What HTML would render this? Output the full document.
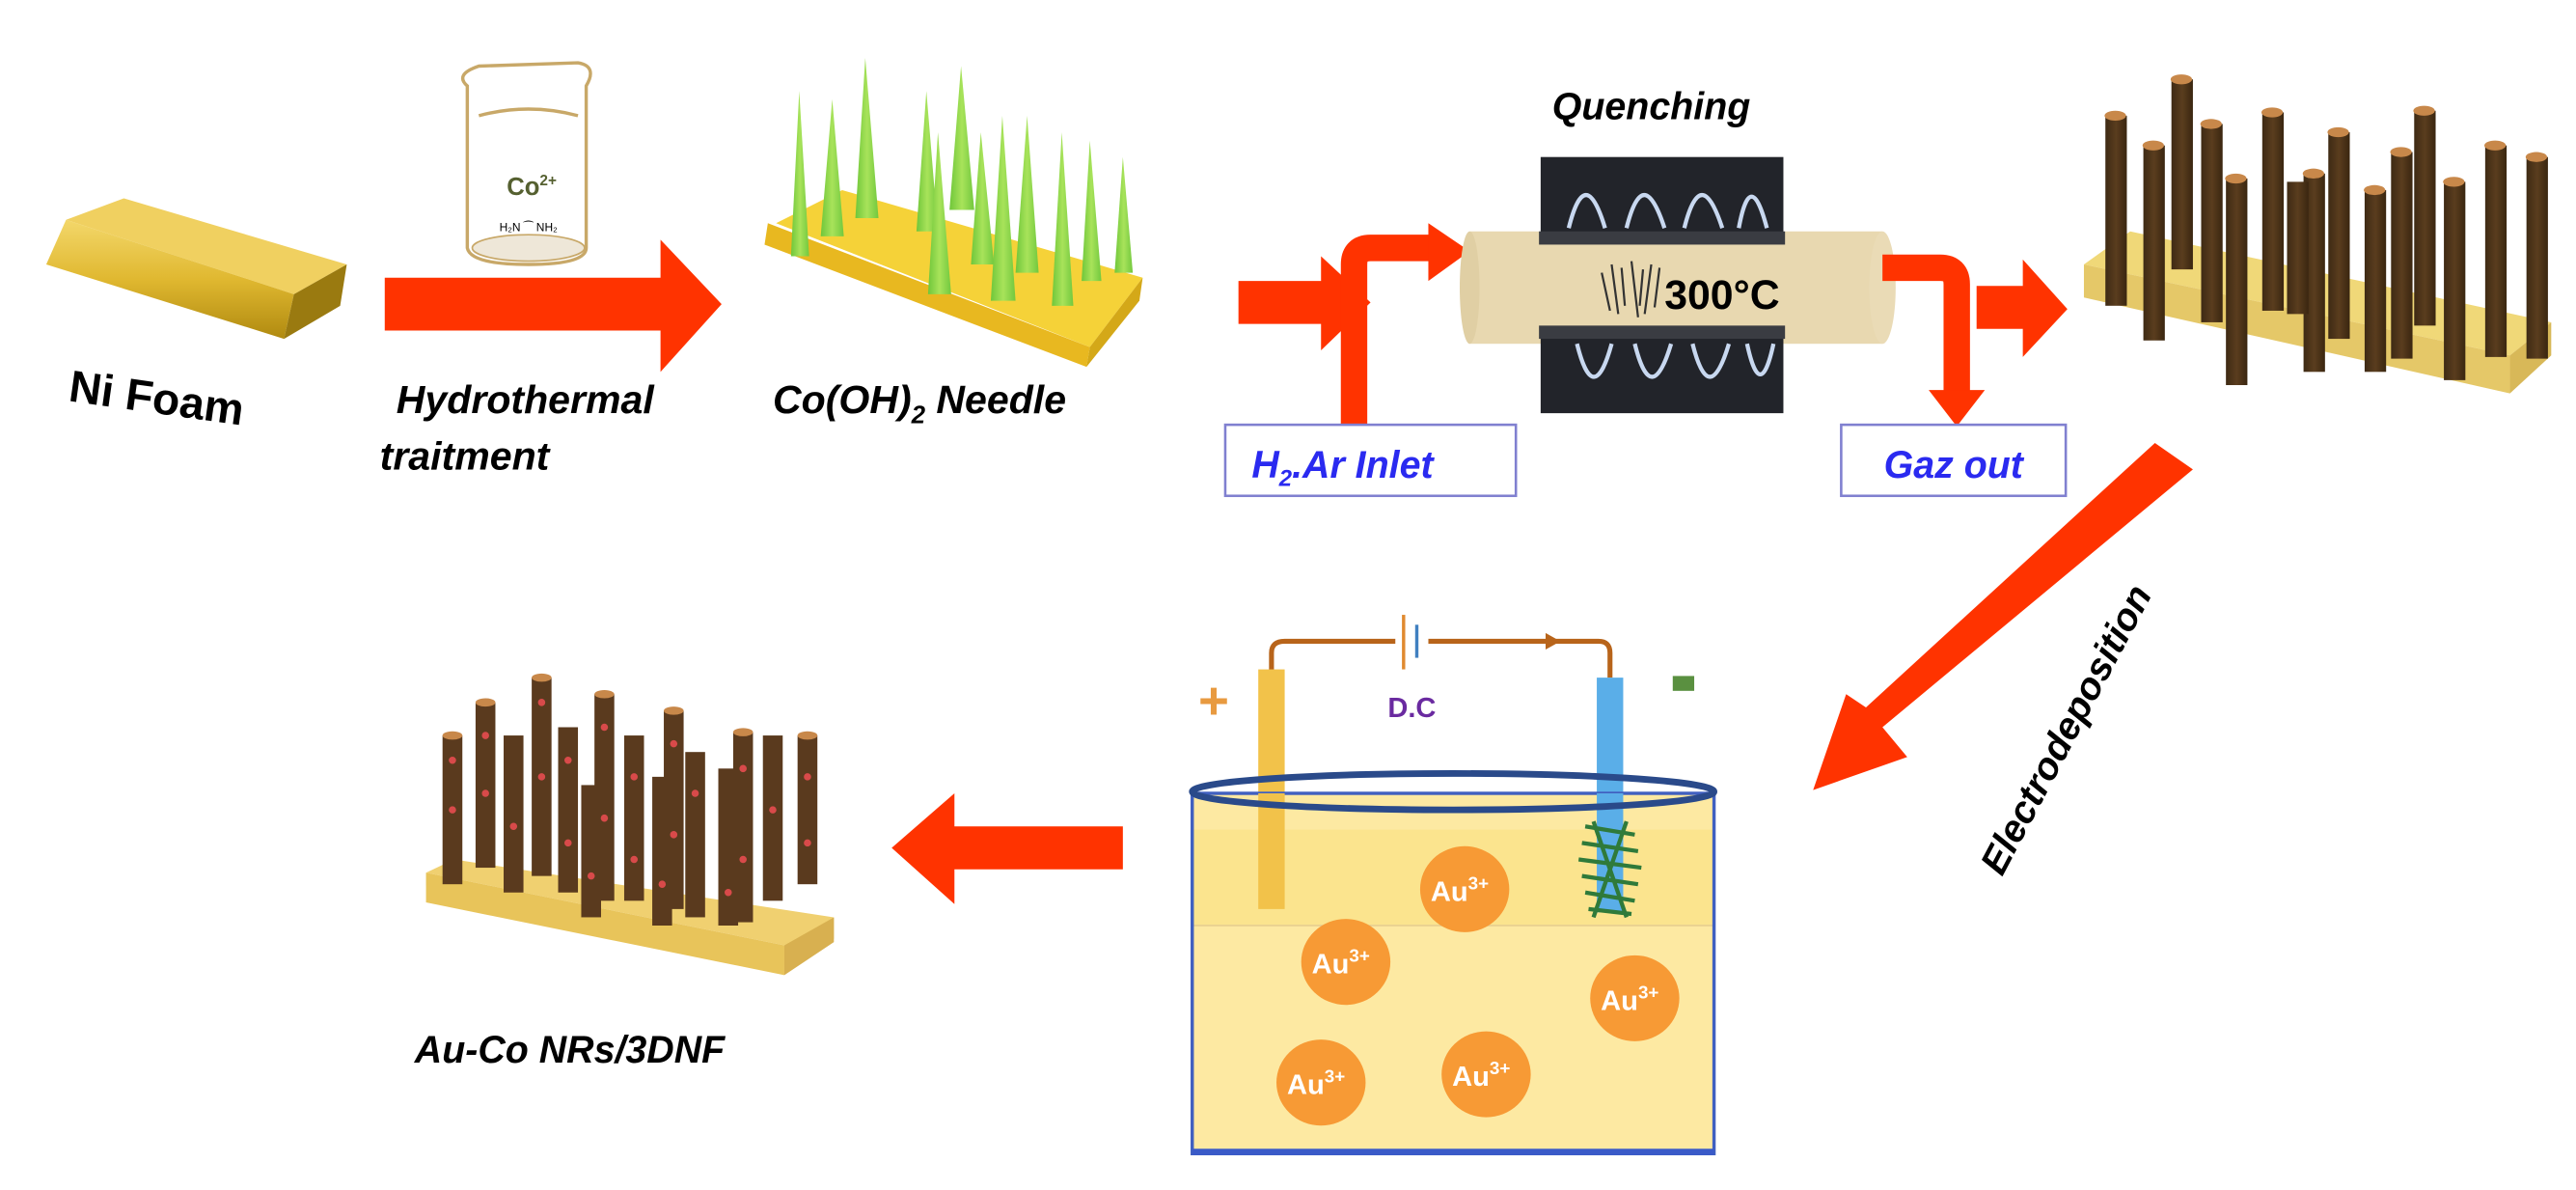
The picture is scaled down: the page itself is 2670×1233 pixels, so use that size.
<!DOCTYPE html>
<html><head><meta charset="utf-8"><style>html,body{margin:0;padding:0;background:#fff}svg{display:block}</style></head>
<body>
<svg width="2670" height="1233" viewBox="0 0 1560 720" preserveAspectRatio="none" xmlns="http://www.w3.org/2000/svg" font-family="Liberation Sans, sans-serif">
<defs>
<linearGradient id="gold" x1="0" y1="0" x2="0" y2="1"><stop offset="0" stop-color="#f3d76a"/><stop offset="0.5" stop-color="#e0b830"/><stop offset="1" stop-color="#b08a10"/></linearGradient>
<linearGradient id="rod" x1="0" y1="0" x2="1" y2="0"><stop offset="0" stop-color="#3e2a14"/><stop offset="0.5" stop-color="#5a3d1e"/><stop offset="1" stop-color="#3a2610"/></linearGradient>
<linearGradient id="ndl" x1="0" y1="0" x2="1" y2="0"><stop offset="0" stop-color="#6fc63a"/><stop offset="0.5" stop-color="#a8e35a"/><stop offset="1" stop-color="#72c83e"/></linearGradient>
</defs>
<!-- Ni foam -->
<polygon points="40,133 75,120 210,160 178,178" fill="#f0d060"/>
<polygon points="40,133 178,178 172,205 28,160" fill="url(#gold)"/>
<polygon points="178,178 210,160 206,185 172,205" fill="#9a7a10"/>
<text x="95" y="250" font-size="27" font-weight="bold" text-anchor="middle" transform="rotate(8 95 240)">Ni Foam</text>
<!-- arrow 1 -->
<polygon points="233,168 400,168 400,145 437,184 400,225 400,200 233,200" fill="#ff3300"/>
<!-- beaker -->
<path d="M283,52 Q275,45 290,40 L350,38 Q362,40 355,52 L355,150 Q355,160 320,160 Q285,160 283,150 Z" fill="#fff" stroke="#c8a868" stroke-width="2"/>
<ellipse cx="320" cy="150" rx="34" ry="8" fill="#eee7d8" stroke="#c8a868"/>
<path d="M290,70 Q320,62 350,70" fill="none" stroke="#c8a868" stroke-width="2"/>
<text x="322" y="118" font-size="15" font-weight="bold" fill="#556030" text-anchor="middle">Co<tspan font-size="9" dy="-6">2+</tspan></text>
<text x="320" y="140" font-size="7" text-anchor="middle">H₂N  ⁀  NH₂</text>
<text x="240" y="250" font-size="24" font-weight="bold" font-style="italic">Hydrothermal</text>
<text x="230" y="284" font-size="24" font-weight="bold" font-style="italic">traitment</text>
<!-- needles -->
<polygon points="470,135 510,115 692,168 660,210" fill="#f5d238"/>
<polygon points="465,135 660,210 658,222 463,148" fill="#e8b820"/>
<polygon points="660,210 692,168 690,182 658,222" fill="#d4a818"/>
<g fill="url(#ndl)">
<polygon points="479,155 484,55 490,155"/><polygon points="497,143 504,60 511,143"/><polygon points="518,132 524,35 532,132"/>
<polygon points="555,140 561,55 568,140"/><polygon points="575,127 582,40 590,127"/><polygon points="562,178 568,80 576,178"/>
<polygon points="588,160 594,80 602,160"/><polygon points="600,182 607,70 615,182"/><polygon points="615,165 622,70 629,165"/>
<polygon points="637,185 643,80 650,185"/><polygon points="655,170 660,85 667,170"/><polygon points="675,165 680,95 686,165"/>
</g>
<text x="468" y="250" font-size="24" font-weight="bold" font-style="italic">Co(OH)<tspan font-size="15" dy="6">2</tspan><tspan dy="-6"> Needle</tspan></text>
<!-- small arrow -->
<polygon points="750,170 800,170 800,155 830,183 800,212 800,196 750,196" fill="#ff3300"/>
<!-- inlet arrow -->
<path d="M820,258 L820,160 Q820,150 830,150 L872,150" fill="none" stroke="#ff3300" stroke-width="16"/>
<polygon points="865,135 890,152 865,170" fill="#ff3300"/>
<rect x="742" y="257" width="176" height="43" fill="#fff" stroke="#8080d0" stroke-width="1.5"/>
<text x="758" y="289" font-size="23" font-weight="bold" font-style="italic" fill="#2a2af0">H<tspan font-size="14" dy="5">2</tspan><tspan dy="-5">.Ar Inlet</tspan></text>
<!-- tube -->
<rect x="890" y="140" width="250" height="68" fill="#e8d8b0"/>
<ellipse cx="890" cy="174" rx="6" ry="34" fill="#e0cfa4"/>
<ellipse cx="1140" cy="174" rx="8" ry="34" fill="#eadbb6"/>
<rect x="933" y="95" width="147" height="50" fill="#22242a"/><rect x="932" y="140" width="149" height="8" fill="#3a3c42"/>
<rect x="933" y="200" width="147" height="50" fill="#22242a"/><rect x="932" y="197" width="149" height="8" fill="#3a3c42"/>
<g fill="none" stroke="#c8d8f0" stroke-width="2.5">
<path d="M950,138 Q960,98 972,138"/><path d="M985,138 Q995,98 1008,138"/><path d="M1020,138 Q1030,98 1043,138"/><path d="M1053,138 Q1060,100 1070,138"/>
<path d="M955,208 Q965,248 976,208"/><path d="M990,208 Q1000,248 1012,208"/><path d="M1025,208 Q1035,248 1047,208"/><path d="M1058,208 Q1066,245 1074,208"/>
</g>
<text x="1000" y="72" font-size="23" font-weight="bold" font-style="italic" text-anchor="middle">Quenching</text>
<g stroke="#333" stroke-width="1.3"><path d="M970,165 L975,188 M976,160 L980,190 M982,162 L984,185 M988,158 L992,192 M995,163 L993,185 M1000,160 L996,190 M1005,162 L1002,186"/></g>
<text x="1008" y="187" font-size="25" font-weight="bold">300°C</text>
<!-- gaz out arrow -->
<path d="M1140,162 L1175,162 Q1185,162 1185,172 L1185,240" fill="none" stroke="#ff3300" stroke-width="16"/>
<polygon points="1168,236 1202,236 1185,258" fill="#ff3300"/>
<rect x="1115" y="257" width="136" height="43" fill="#fff" stroke="#8080d0" stroke-width="1.5"/>
<text x="1183" y="289" font-size="23" font-weight="bold" font-style="italic" fill="#2a2af0" text-anchor="middle">Gaz out</text>
<!-- arrow -->
<polygon points="1197,173 1225,173 1225,157 1252,187 1225,216 1225,199 1197,199" fill="#ff3300"/>
<!-- rods -->
<polygon points="1262,160 1290,140 1545,195 1520,215" fill="#f0d878"/>
<polygon points="1262,160 1520,215 1520,238 1262,180" fill="#e5c868"/>
<polygon points="1520,215 1545,195 1545,215 1520,238" fill="#d8b858"/>
<g fill="url(#rod)">
<rect x="1275" y="70" width="13" height="115"/><rect x="1298" y="88" width="13" height="118"/><rect x="1315" y="48" width="13" height="115"/>
<rect x="1333" y="75" width="13" height="120"/><rect x="1348" y="108" width="13" height="125"/><rect x="1370" y="68" width="13" height="120"/>
<rect x="1395" y="105" width="13" height="120"/><rect x="1410" y="80" width="13" height="125"/><rect x="1432" y="115" width="13" height="110"/>
<rect x="1448" y="92" width="13" height="125"/><rect x="1462" y="67" width="13" height="130"/><rect x="1480" y="110" width="13" height="120"/>
<rect x="1505" y="88" width="13" height="128"/><rect x="1530" y="95" width="13" height="122"/><rect x="1385" y="110" width="13" height="80"/>
</g>
<g fill="#c8884a"><ellipse cx="1281" cy="70" rx="6.5" ry="3"/><ellipse cx="1304" cy="88" rx="6.5" ry="3"/><ellipse cx="1321" cy="48" rx="6.5" ry="3"/><ellipse cx="1339" cy="75" rx="6.5" ry="3"/><ellipse cx="1354" cy="108" rx="6.5" ry="3"/><ellipse cx="1376" cy="68" rx="6.5" ry="3"/><ellipse cx="1401" cy="105" rx="6.5" ry="3"/><ellipse cx="1416" cy="80" rx="6.5" ry="3"/><ellipse cx="1438" cy="115" rx="6.5" ry="3"/><ellipse cx="1454" cy="92" rx="6.5" ry="3"/><ellipse cx="1468" cy="67" rx="6.5" ry="3"/><ellipse cx="1486" cy="110" rx="6.5" ry="3"/><ellipse cx="1511" cy="88" rx="6.5" ry="3"/><ellipse cx="1536" cy="95" rx="6.5" ry="3"/></g>
<!-- diagonal arrow -->
<polygon points="1305,268 1328,284 1140,440 1155,458 1098,478 1118,420 1130,428" fill="#ff3300"/>
<text x="1258" y="445" font-size="23" font-weight="bold" font-style="italic" text-anchor="middle" transform="rotate(-62 1258 445)">Electrodeposition</text>
<!-- circuit -->
<path d="M770,410 L770,395 Q770,388 778,388 L845,388 M865,388 L968,388 Q975,388 975,395 L975,410" fill="none" stroke="#b8641a" stroke-width="3"/>
<line x1="850" y1="372" x2="850" y2="405" stroke="#e08a30" stroke-width="2"/>
<line x1="858" y1="378" x2="858" y2="398" stroke="#4080c0" stroke-width="2"/>
<polygon points="936,383 945,388 936,393" fill="#b8641a"/>
<rect x="762" y="405" width="16" height="130" fill="#f2c24a"/>
<rect x="967" y="410" width="16" height="130" fill="#5aaee8"/>
<text x="735" y="435" font-size="32" font-weight="bold" fill="#e89a40" text-anchor="middle">+</text>
<rect x="1013" y="409" width="13" height="9" fill="#5a9040"/>
<text x="855" y="434" font-size="17" font-weight="bold" fill="#6a2aa0" text-anchor="middle">D.C</text>
<!-- beaker -->
<rect x="722" y="480" width="316" height="218" fill="#fde9a2"/>
<rect x="722" y="502" width="316" height="58" fill="#fbe48e"/>
<line x1="722" y1="560" x2="1038" y2="560" stroke="#e8d090" stroke-width="1"/>
<rect x="722" y="480" width="316" height="218" fill="none" stroke="#4060c0" stroke-width="2"/>
<line x1="722" y1="697" x2="1038" y2="697" stroke="#3a5ac8" stroke-width="4"/>
<rect x="762" y="480" width="16" height="70" fill="#f2c24a"/>
<rect x="967" y="480" width="16" height="72" fill="#5aaee8"/>
<ellipse cx="880" cy="479" rx="158" ry="11" fill="none" stroke="#2a4a8a" stroke-width="4"/>
<g stroke="#2f7a3a" stroke-width="2.5"><path d="M960,500 L990,505 M958,510 L992,515 M956,520 L994,525 M958,530 L992,535 M960,540 L990,545 M962,550 L988,553 M965,497 L985,555 M985,497 L965,555"/></g>
<g fill="#f79a35"><ellipse cx="887" cy="538" rx="27" ry="26"/><ellipse cx="815" cy="582" rx="27" ry="26"/><ellipse cx="990" cy="604" rx="27" ry="26"/><ellipse cx="800" cy="655" rx="27" ry="26"/><ellipse cx="900" cy="650" rx="27" ry="26"/></g>
<g fill="#fff" font-size="17" font-weight="bold" text-anchor="middle"><text x="884" y="545">Au<tspan font-size="11" dy="-7">3+</tspan></text><text x="812" y="589">Au<tspan font-size="11" dy="-7">3+</tspan></text><text x="987" y="611">Au<tspan font-size="11" dy="-7">3+</tspan></text><text x="797" y="662">Au<tspan font-size="11" dy="-7">3+</tspan></text><text x="897" y="657">Au<tspan font-size="11" dy="-7">3+</tspan></text></g>
<!-- left arrow -->
<polygon points="680,500 578,500 578,480 540,513 578,547 578,526 680,526" fill="#ff3300"/>
<!-- Au-Co rods -->
<polygon points="258,528 275,520 505,555 505,568 475,572" fill="#f0d070"/>
<polygon points="258,528 475,572 475,590 258,546" fill="#e8c45a"/>
<polygon points="475,572 505,555 505,570 475,590" fill="#d8b050"/>
<g fill="#5a3a1e">
<rect x="268" y="445" width="12" height="90"/><rect x="288" y="425" width="12" height="100"/><rect x="322" y="410" width="12" height="120"/>
<rect x="305" y="445" width="12" height="95"/><rect x="338" y="440" width="12" height="100"/><rect x="360" y="420" width="12" height="125"/>
<rect x="378" y="445" width="12" height="100"/><rect x="402" y="430" width="12" height="120"/><rect x="415" y="455" width="12" height="100"/>
<rect x="444" y="443" width="12" height="115"/><rect x="462" y="445" width="12" height="100"/><rect x="483" y="445" width="12" height="90"/>
<rect x="352" y="475" width="12" height="80"/><rect x="395" y="470" width="12" height="90"/><rect x="435" y="465" width="12" height="95"/>
</g>
<g fill="#c8884a"><ellipse cx="274" cy="445" rx="6" ry="2.5"/><ellipse cx="294" cy="425" rx="6" ry="2.5"/><ellipse cx="328" cy="410" rx="6" ry="2.5"/><ellipse cx="366" cy="420" rx="6" ry="2.5"/><ellipse cx="408" cy="430" rx="6" ry="2.5"/><ellipse cx="450" cy="443" rx="6" ry="2.5"/><ellipse cx="489" cy="445" rx="6" ry="2.5"/></g>
<g fill="#d84a4a">
<circle cx="274" cy="460" r="2.2"/><circle cx="274" cy="490" r="2.2"/><circle cx="294" cy="445" r="2.2"/><circle cx="294" cy="480" r="2.2"/><circle cx="328" cy="425" r="2.2"/><circle cx="328" cy="470" r="2.2"/><circle cx="311" cy="500" r="2.2"/><circle cx="344" cy="460" r="2.2"/><circle cx="344" cy="510" r="2.2"/><circle cx="366" cy="440" r="2.2"/><circle cx="366" cy="495" r="2.2"/><circle cx="384" cy="470" r="2.2"/><circle cx="384" cy="520" r="2.2"/><circle cx="408" cy="450" r="2.2"/><circle cx="408" cy="505" r="2.2"/><circle cx="421" cy="480" r="2.2"/><circle cx="450" cy="465" r="2.2"/><circle cx="450" cy="520" r="2.2"/><circle cx="468" cy="490" r="2.2"/><circle cx="489" cy="470" r="2.2"/><circle cx="489" cy="510" r="2.2"/><circle cx="358" cy="530" r="2.2"/><circle cx="401" cy="535" r="2.2"/><circle cx="441" cy="540" r="2.2"/>
</g>
<text x="345" y="643" font-size="23" font-weight="bold" font-style="italic" text-anchor="middle">Au-Co NRs/3DNF</text>
</svg>
</body></html>
